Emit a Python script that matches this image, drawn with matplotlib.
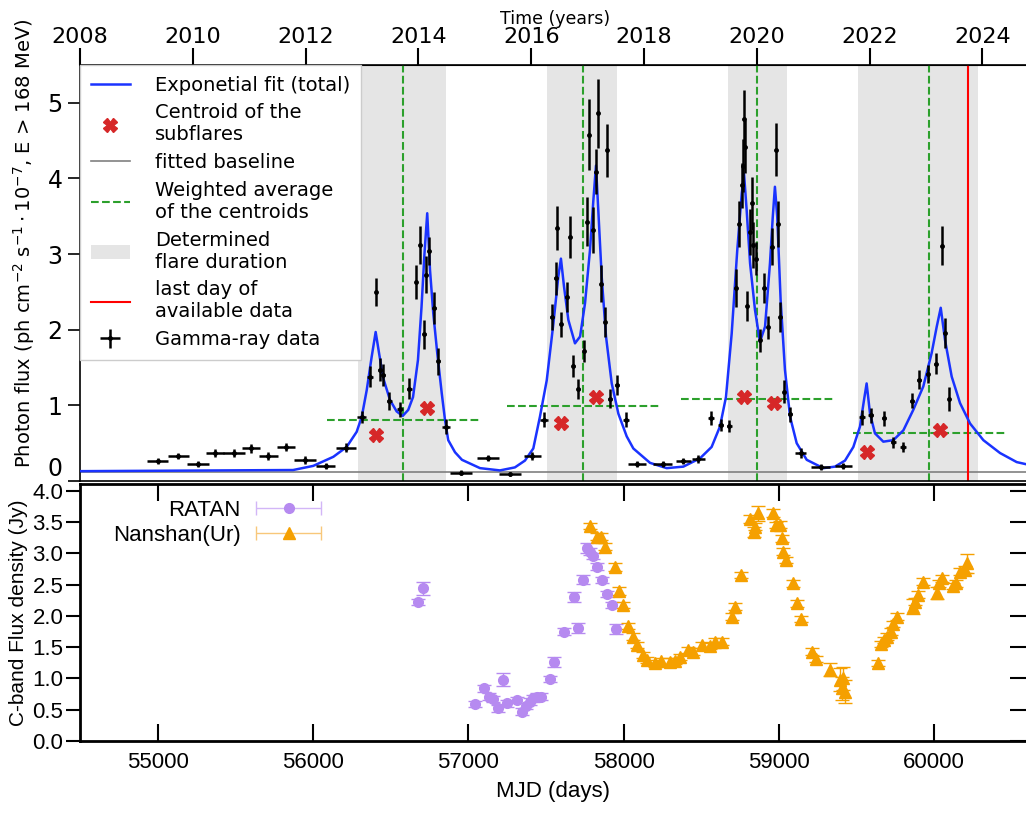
import numpy as np
import matplotlib
matplotlib.use('Agg')
import matplotlib.pyplot as plt
from matplotlib.patches import Patch
from matplotlib.lines import Line2D
from matplotlib.container import ErrorbarContainer
from matplotlib.legend_handler import HandlerErrorbar

# ---------------- gamma-ray light curve (MJD, flux 1e-7 ph/cm2/s) ----------------
gamma_mjd = [54969, 55103, 55232, 55340, 55463, 55574, 55686, 55800, 55923, 56057,
             56189, 56291, 56344, 56383, 56409, 56430, 56469, 56539, 56599, 56642,
             56668, 56696, 56707, 56728, 56761, 56787, 56835, 56935, 57109, 57251,
             57394, 57473, 57521, 57547, 57557, 57581, 57618, 57640, 57661, 57694,
             57730, 57752, 57765, 57787, 57806, 57823, 57840, 57866, 57881, 57899,
             57942, 58000, 58074, 58240, 58374, 58471, 58551, 58616, 58671, 58715,
             58736, 58752, 58762, 58767, 58773, 58788, 58806, 58817, 58827, 58844,
             58870, 58898, 58924, 58950, 58974, 58985, 59000, 59026, 59065, 59134,
             59263, 59410, 59529, 59587, 59673, 59734, 59799, 59857, 59900, 59956,
             60010, 60047, 60069, 60096]
gamma_flux = [0.27, 0.33, 0.22, 0.37, 0.37, 0.43, 0.33, 0.45, 0.28, 0.20,
              0.44, 0.85, 1.38, 2.50, 1.47, 1.40, 1.06, 0.95, 1.22, 2.63,
              3.12, 1.94, 2.73, 3.04, 2.29, 1.58, 0.72, 0.11, 0.30, 0.09,
              0.33, 0.81, 2.17, 2.68, 3.34, 2.07, 2.43, 3.23, 1.52, 1.22,
              1.72, 3.43, 4.58, 3.32, 4.09, 4.86, 2.61, 2.10, 4.37, 1.09,
              1.27, 0.81, 0.23, 0.22, 0.26, 0.29, 0.83, 0.74, 0.73, 2.55,
              3.40, 3.91, 4.17, 4.79, 4.42, 2.31, 3.29, 3.67, 3.12, 2.94,
              1.86, 2.55, 2.03, 3.10, 4.38, 3.40, 2.17, 1.18, 0.88, 0.37,
              0.19, 0.20, 0.84, 0.87, 0.83, 0.51, 0.45, 1.06, 1.34, 1.42,
              1.55, 3.11, 1.96, 1.08]
gamma_ferr = [0.04, 0.04, 0.04, 0.05, 0.05, 0.06, 0.05, 0.05, 0.05, 0.04,
              0.06, 0.08, 0.14, 0.19, 0.15, 0.15, 0.12, 0.10, 0.14, 0.22,
              0.25, 0.19, 0.25, 0.18, 0.21, 0.18, 0.10, 0.03, 0.04, 0.03,
              0.05, 0.10, 0.17, 0.22, 0.29, 0.17, 0.20, 0.28, 0.14, 0.13,
              0.15, 0.32, 0.47, 0.30, 0.30, 0.46, 0.25, 0.20, 0.35, 0.12,
              0.13, 0.10, 0.04, 0.04, 0.04, 0.05, 0.09, 0.08, 0.08, 0.25,
              0.30, 0.30, 0.35, 0.38, 0.35, 0.20, 0.30, 0.35, 0.30, 0.22,
              0.15, 0.20, 0.15, 0.25, 0.35, 0.30, 0.20, 0.15, 0.10, 0.06,
              0.04, 0.04, 0.10, 0.10, 0.10, 0.07, 0.06, 0.10, 0.13, 0.12,
              0.14, 0.26, 0.20, 0.16]
gamma_terr = [70, 70, 70, 60, 70, 60, 60, 60, 70, 60,
              65, 30, 20, 8, 10, 12, 15, 20, 15, 8,
              8, 8, 8, 8, 8, 10, 25, 70, 70, 70,
              55, 25, 10, 8, 6, 8, 8, 8, 8, 10,
              6, 6, 6, 6, 6, 6, 6, 8, 8, 10,
              12, 20, 60, 60, 50, 40, 20, 15, 15, 6,
              6, 5, 5, 5, 5, 6, 5, 5, 5, 6,
              6, 8, 6, 6, 6, 6, 6, 8, 12, 35,
              60, 55, 20, 15, 15, 15, 20, 12, 10, 10,
              10, 6, 6, 8]

# exponential fit (total), vertices
fit_mjd = [54466, 55846, 55977, 56107, 56193, 56258, 56291, 56323, 56355, 56381,
           56403, 56430, 56474, 56517, 56556, 56592, 56623, 56655, 56678, 56697,
           56715, 56733, 56754, 56780, 56809, 56830, 56851, 56895, 56940, 57057,
           57186, 57283, 57348, 57402, 57445, 57489, 57532, 57564, 57581, 57601,
           57629, 57672, 57705, 57737, 57769, 57791, 57808, 57823, 57845, 57873,
           57910, 57953, 58007, 58050, 58158, 58266, 58374, 58482, 58557, 58611,
           58650, 58687, 58723, 58752, 58767, 58784, 58806, 58838, 58870, 58903,
           58935, 58953, 58967, 58982, 59004, 59032, 59065, 59108, 59173, 59280,
           59356, 59421, 59475, 59518, 59544, 59561, 59583, 59615, 59669, 59734,
           59799, 59863, 59928, 59982, 60015, 60041, 60069, 60112, 60166, 60231,
           60317, 60425, 60533, 60620]
fit_flux = [0.13, 0.145, 0.20, 0.32, 0.45, 0.65, 0.85, 1.20, 1.64, 1.97,
            1.69, 1.36, 1.07, 0.92, 0.86, 0.94, 1.11, 1.60, 2.30, 3.00,
            3.54, 2.79, 2.22, 1.69, 1.16, 0.81, 0.54, 0.38, 0.28, 0.17,
            0.14, 0.18, 0.27, 0.43, 0.85, 1.33, 2.08, 2.70, 2.94, 2.57,
            2.13, 1.82, 1.91, 2.35, 3.05, 3.71, 4.17, 3.58, 2.70, 1.91,
            1.29, 0.89, 0.59, 0.43, 0.24, 0.17, 0.19, 0.30, 0.45, 0.72,
            1.11, 1.95, 3.05, 3.80, 4.06, 3.58, 2.88, 2.26, 1.84, 2.04,
            2.88, 3.49, 3.89, 3.49, 2.39, 1.47, 0.85, 0.50, 0.28, 0.17,
            0.19, 0.27, 0.45, 0.72, 1.07, 1.29, 0.89, 0.63, 0.52, 0.54,
            0.67, 0.94, 1.25, 1.69, 2.04, 2.29, 1.86, 1.38, 1.03, 0.76,
            0.54, 0.37, 0.25, 0.21]
baseline = 0.12

# subflare centroids
sub_mjd = [56381, 56715, 57581, 57806, 58769, 58961, 59561, 60036]
sub_flux = [0.61, 0.96, 0.77, 1.11, 1.11, 1.03, 0.39, 0.67]

# flare durations and weighted averages
span_start = [56265, 57489, 58665, 59507]
span_end = [56835, 57946, 59047, 60284]
wavg_mjd = [56560, 57726, 58853, 59967]
wavg_flux = [0.80, 0.99, 1.09, 0.63]
wavg_halfwidth = 497
last_day = 60219

# ---------------- radio C-band ----------------
ratan_mjd = [56677, 56710, 57042, 57100, 57135, 57160, 57193, 57225, 57250, 57311,
             57343, 57371, 57397, 57418, 57444, 57468, 57526, 57553, 57616, 57680,
             57708, 57736, 57766, 57783, 57805, 57830, 57861, 57891, 57923, 57951]
ratan_flux = [2.22, 2.44, 0.59, 0.84, 0.71, 0.67, 0.52, 0.98, 0.60, 0.66,
              0.47, 0.56, 0.63, 0.68, 0.71, 0.71, 0.99, 1.26, 1.75, 2.30,
              1.80, 2.58, 3.08, 3.03, 2.96, 2.79, 2.58, 2.35, 2.18, 1.79]
ratan_err = [0.05, 0.10, 0.05, 0.05, 0.05, 0.05, 0.05, 0.10, 0.05, 0.05,
             0.05, 0.05, 0.05, 0.05, 0.05, 0.05, 0.05, 0.08, 0.06, 0.08,
             0.08, 0.07, 0.08, 0.05, 0.05, 0.05, 0.05, 0.05, 0.05, 0.08]

nanshan_mjd = [57783, 57826, 57852, 57880, 57944, 57972, 57998, 58026, 58058, 58084,
               58123, 58149, 58202, 58239, 58299, 58331, 58363, 58417, 58449, 58507,
               58557, 58589, 58632, 58696, 58718, 58754, 58814, 58840, 58847, 58868,
               58961, 58982, 59008, 59019, 59029, 59044, 59090, 59115, 59143, 59212,
               59240, 59330, 59394, 59405, 59415, 59426, 59637, 59658, 59678, 59699,
               59721, 59738, 59759, 59866, 59877, 59899, 59927, 60021, 60034, 60049,
               60120, 60141, 60167, 60200, 60210]
nanshan_flux = [3.44, 3.27, 3.27, 3.11, 2.78, 2.40, 2.18, 1.84, 1.67, 1.54,
                1.38, 1.30, 1.24, 1.28, 1.27, 1.28, 1.34, 1.46, 1.43, 1.54,
                1.52, 1.59, 1.59, 1.99, 2.15, 2.66, 3.55, 3.35, 3.43, 3.64,
                3.65, 3.46, 3.46, 3.24, 3.03, 2.90, 2.52, 2.20, 1.95, 1.43,
                1.31, 1.14, 0.98, 0.84, 1.00, 0.79, 1.25, 1.55, 1.62, 1.67,
                1.75, 1.87, 1.99, 2.15, 2.23, 2.34, 2.55, 2.37, 2.52, 2.60,
                2.48, 2.52, 2.71, 2.74, 2.84]
nanshan_err = [0.05, 0.05, 0.05, 0.05, 0.06, 0.06, 0.05, 0.05, 0.05, 0.05,
               0.05, 0.05, 0.05, 0.05, 0.05, 0.05, 0.05, 0.05, 0.05, 0.05,
               0.05, 0.05, 0.05, 0.05, 0.05, 0.05, 0.06, 0.08, 0.06, 0.12,
               0.06, 0.05, 0.06, 0.05, 0.05, 0.05, 0.06, 0.05, 0.05, 0.05,
               0.05, 0.10, 0.18, 0.18, 0.18, 0.18, 0.05, 0.05, 0.05, 0.05,
               0.05, 0.05, 0.05, 0.12, 0.06, 0.06, 0.06, 0.10, 0.05, 0.05,
               0.05, 0.06, 0.06, 0.06, 0.15]


def mjd_to_year(m):
    return 2000.0 + (np.asarray(m) - 51544.5) / 365.25


def year_to_mjd(y):
    return (np.asarray(y) - 2000.0) * 365.25 + 51544.5


W, H = 1026, 819
fig = plt.figure(figsize=(W / 100, H / 100), dpi=100)
ax = fig.add_axes([80 / W, 1 - 481 / H, 950 / W, 416 / H])
ax2 = fig.add_axes([80 / W, 1 - 741 / H, 947 / W, 257 / H])

############ gamma-ray panel ############
for a, b in zip(span_start, span_end):
    ax.axvspan(a, b, color='grey', alpha=0.2, lw=0, zorder=0)
ax.axhline(baseline, color='grey', lw=1.2, zorder=1)
ax.plot(fit_mjd, fit_flux, color='#1a33ff', lw=1.8, zorder=3)
gam = ax.errorbar(gamma_mjd, gamma_flux, xerr=gamma_terr, yerr=gamma_ferr,
                  fmt='.', color='black', ms=5, elinewidth=1.8, capsize=0, zorder=4)
for c, lev in zip(wavg_mjd, wavg_flux):
    ax.axvline(c, color='tab:green', ls='--', lw=1.5, zorder=2)
    ax.hlines(lev, c - wavg_halfwidth, c + wavg_halfwidth, color='tab:green',
              ls='--', lw=1.5, zorder=2)
ax.plot(sub_mjd, sub_flux, ls='none', marker='X', color='tab:red', ms=10, zorder=5)
ax.axvline(last_day, color='red', lw=1.5, zorder=2)

ax.set_xlim(54466, 54466 + 950 * 6.477)
ax.set_ylim(0, 5.5)
ax.set_yticks(range(6))
ax.tick_params(axis='x', bottom=False, labelbottom=False)
ax.tick_params(axis='y', labelsize=17, length=9, width=1.2)
ax.yaxis.get_major_ticks()[0].label1.set_va('bottom')
for s in ax.spines.values():
    s.set_linewidth(1.2)
ax.set_ylabel(r'Photon flux (ph cm$^{-2}$ s$^{-1}\cdot 10^{-7}$, E > 168 MeV)',
              fontsize=14)
ax.yaxis.set_label_coords(-0.045, 0.572)

sec = ax.secondary_xaxis('top', functions=(mjd_to_year, year_to_mjd))
sec.set_xticks(range(2008, 2025, 2))
sec.tick_params(labelsize=16, length=12, width=1.5, pad=1)
sec.set_xlabel('Time (years)', fontsize=12.5, labelpad=2)

handles = [Line2D([], [], color='#1a33ff', lw=1.8),
           Line2D([], [], ls='none', marker='X', color='tab:red', ms=10),
           Line2D([], [], color='grey', lw=1.2),
           Line2D([], [], color='tab:green', ls='--', lw=1.5),
           Patch(facecolor='grey', alpha=0.2, lw=0),
           Line2D([], [], color='red', lw=1.5),
           gam]
labels = ['Exponetial fit (total)', 'Centroid of the\nsubflares', 'fitted baseline',
          'Weighted average\nof the centroids', 'Determined\nflare duration',
          'last day of\navailable data', 'Gamma-ray data']
leg = ax.legend(handles, labels, loc='upper left', borderaxespad=0, fontsize=14,
                fancybox=False, framealpha=1, edgecolor='0.8', labelspacing=0.45,
                borderpad=0.55, handletextpad=1.3)
leg.set_zorder(10)

############ radio panel ############
purple = '#b68af0'
orange = '#f5a000'
ax2.errorbar(ratan_mjd, ratan_flux, yerr=ratan_err, fmt='o', color=purple,
             ms=7, capsize=5, elinewidth=1, zorder=3)
ax2.errorbar(nanshan_mjd, nanshan_flux, yerr=nanshan_err, fmt='^', color=orange,
             ms=8.5, capsize=5, elinewidth=1, zorder=3)
# legend proxies with horizontal bars like the original
h1 = ax2.errorbar([np.nan], [np.nan], xerr=[1], fmt='o', color=purple, ms=7,
                  capsize=5, elinewidth=1, ecolor='#d2b6f7')
h2 = ax2.errorbar([np.nan], [np.nan], xerr=[1], fmt='^', color=orange, ms=8.5,
                  capsize=5, elinewidth=1, ecolor='#f8c77a')
leg2 = ax2.legend([h1, h2], ['RATAN', 'Nanshan(Ur)'], loc='upper left',
                  frameon=False, markerfirst=False, handlelength=3.3,
                  prop={'family': 'Liberation Sans', 'size': 16},
                  borderaxespad=0, labelspacing=0.2, handletextpad=0.5,
                  borderpad=0.3, bbox_to_anchor=(0.028, 0.965),
                  handler_map={ErrorbarContainer: HandlerErrorbar(xerr_size=1.45)})
for col in leg2._legend_handle_box.get_children():
    col.align = 'right'

ax2.set_xlim(54497.5, 54497.5 + 947 * 6.443)
ax2.set_ylim(0, 4.11)
ax2.set_xticks([55000, 56000, 57000, 58000, 59000, 60000])
ax2.set_yticks(np.arange(0, 4.01, 0.5))
ax2.yaxis.set_major_formatter(plt.FormatStrFormatter('%.1f'))
ax2.tick_params(axis='x', direction='in', top=True, length=12, width=1.5,
                labelsize=16, pad=8, labelfontfamily='Liberation Sans')
ax2.tick_params(axis='y', direction='out', length=10, width=1.5,
                labelsize=16, pad=2, labelfontfamily='Liberation Sans')
right = ax2.secondary_yaxis('right')
right.set_yticks(np.arange(0, 4.01, 0.5))
right.tick_params(direction='in', length=12, width=1.5, labelright=False)
for s in ax2.spines.values():
    s.set_linewidth(2)
ax2.set_xlabel('MJD (days)', fontsize=16, family='Liberation Sans', labelpad=6)
ax2.set_ylabel('C-band Flux density (Jy)', fontsize=15, family='Liberation Sans',
               labelpad=3)

fig.savefig('out.png', dpi=100)
